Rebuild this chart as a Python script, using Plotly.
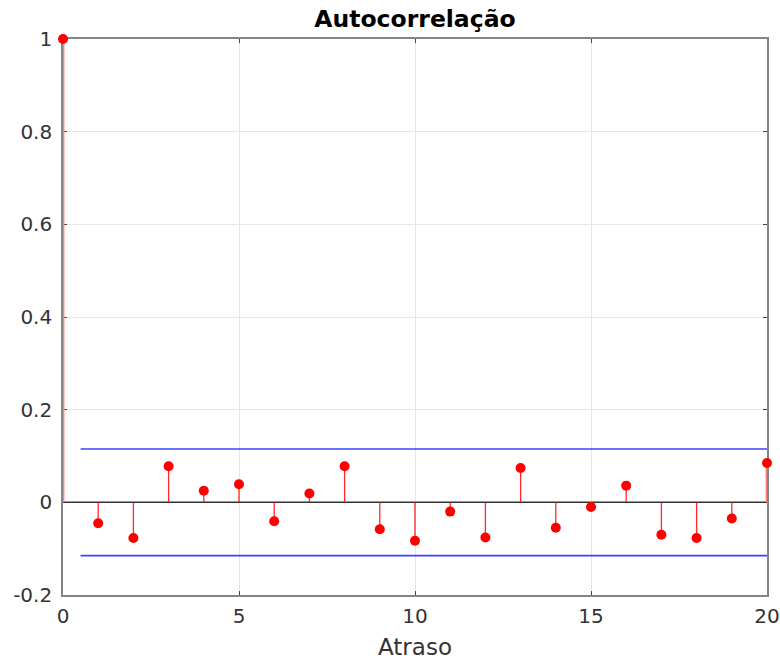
import plotly.graph_objects as go

lags = list(range(0, 21))
acf = [1.0, -0.045, -0.077, 0.078, 0.025, 0.039, -0.041, 0.019, 0.078, -0.058,
       -0.083, -0.020, -0.076, 0.074, -0.055, -0.010, 0.036, -0.070, -0.077,
       -0.035, 0.085]
bound = 0.115
bound_x = [0.5, 20]
x_ticks = [0, 5, 10, 15, 20]
x_tick_labels = ["0", "5", "10", "15", "20"]
y_ticks = [-0.2, 0, 0.2, 0.4, 0.6, 0.8, 1.0]
y_tick_labels = ["-0.2", "0", "0.2", "0.4", "0.6", "0.8", "1"]

stem_x, stem_y = [], []
edge_x, edge_y = [], []
for l, v in zip(lags, acf):
    if l in (lags[0], lags[-1]):
        edge_x += [l, l, None]
        edge_y += [0, v, None]
    else:
        stem_x += [l, l, None]
        stem_y += [0, v, None]

fig = go.Figure()
fig.add_trace(go.Scatter(x=[0, 20], y=[0, 0], mode="lines",
                         line=dict(color="#333333", width=1.5), hoverinfo="skip"))
fig.add_trace(go.Scatter(x=stem_x, y=stem_y, mode="lines",
                         line=dict(color="rgba(255,0,0,0.85)", width=1.3), hoverinfo="skip"))
fig.add_trace(go.Scatter(x=edge_x, y=edge_y, mode="lines", cliponaxis=False,
                         line=dict(color="#ff8080", width=2.8), hoverinfo="skip"))
fig.add_trace(go.Scatter(x=lags, y=acf, mode="markers",
                         marker=dict(color="red", size=10), cliponaxis=False))
fig.add_trace(go.Scatter(x=bound_x, y=[bound, bound], mode="lines",
                         line=dict(color="rgba(0,0,255,0.75)", width=1.6)))
fig.add_trace(go.Scatter(x=bound_x, y=[-bound, -bound], mode="lines",
                         line=dict(color="rgba(0,0,255,0.75)", width=1.6)))

axis_common = dict(showline=True, linecolor="#858585", linewidth=1.6, mirror="allticks",
                   ticks="inside", ticklen=4, tickcolor="#444444", tickwidth=1,
                   showgrid=True, gridcolor="#e6e6e6", gridwidth=1, zeroline=False,
                   automargin=False, layer="below traces",
                   tickfont=dict(family="DejaVu Sans", size=20, color="#333333"))

fig.update_layout(
    width=780, height=662,
    margin=dict(l=63, r=13, t=39, b=67),
    paper_bgcolor="white", plot_bgcolor="white",
    showlegend=False,
    title=dict(text="<b>Autocorrelação</b>", x=(63 + 767) / 2 / 780, xanchor="center",
               y=1 - 19 / 662, yanchor="middle",
               font=dict(family="DejaVu Sans", size=23.5, color="black")),
    xaxis=dict(range=[0, 20], tickvals=x_ticks, ticktext=x_tick_labels,
               ticklabelstandoff=2,
               title=dict(text="Atraso", standoff=12,
                          font=dict(family="DejaVu Sans", size=23, color="#333333")),
               **axis_common),
    yaxis=dict(range=[-0.2, 1.0], tickvals=y_ticks, ticktext=y_tick_labels,
               ticklabelstandoff=5,
               **axis_common),
)

fig.write_html("out.html")
